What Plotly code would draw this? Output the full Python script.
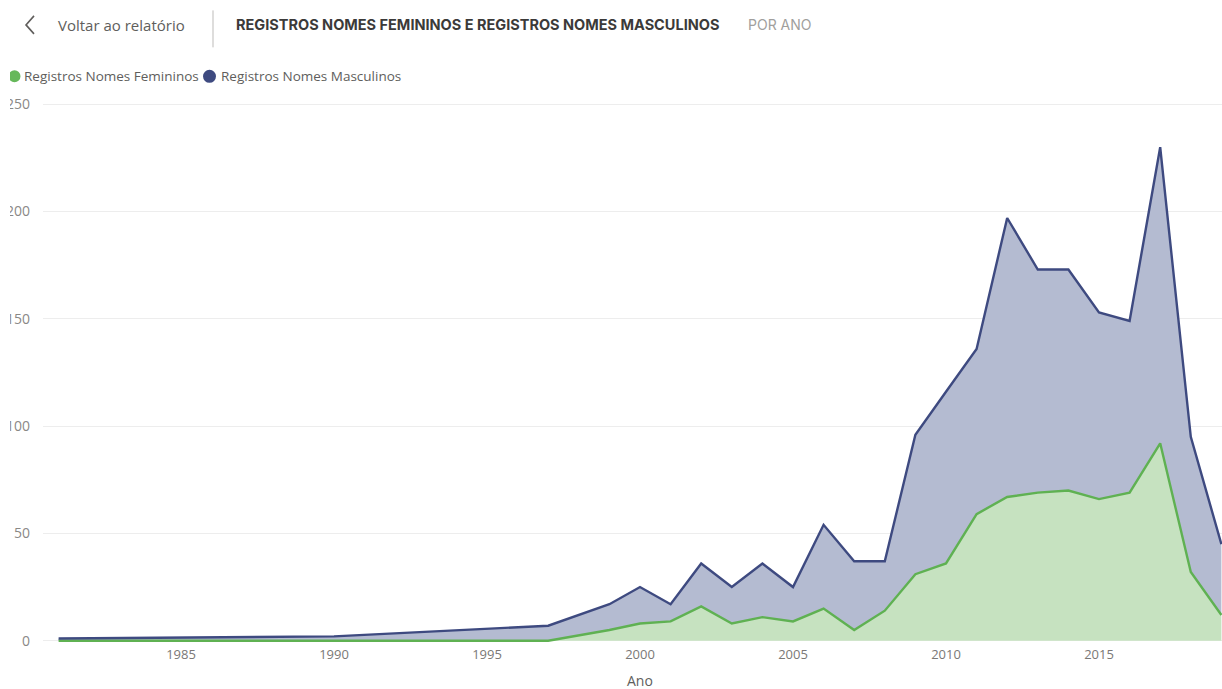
import plotly.graph_objects as go

# Registros por ano (anos com mudança de tendência visível)
anos = [1981, 1990, 1997, 1999, 2000, 2001, 2002, 2003, 2004, 2005, 2006, 2007,
        2008, 2009, 2010, 2011, 2012, 2013, 2014, 2015, 2016, 2017, 2018, 2019]
femininos = [0, 0, 0, 5, 8, 9, 16, 8, 11, 9, 15, 5,
             14, 31, 36, 59, 67, 69, 70, 66, 69, 92, 32, 12]
masculinos = [1, 2, 7, 12, 17, 8, 20, 17, 25, 16, 39, 32,
              23, 65, 80, 77, 130, 104, 103, 87, 80, 138, 63, 33]

x_ticks = [1985, 1990, 1995, 2000, 2005, 2010, 2015]
y_ticks = [0, 50, 100, 150, 200, 250]

verde_linha, verde_area = "#5FB152", "#C6E2C0"
azul_linha, azul_area = "#3E4A80", "#B4BBD1"
cinza_txt = "#605E5C"

W, H = 1222, 689
L, R, T, B = 43, 0, 99.7, 43.7
PW, PH = W - L - R, H - T - B


def px(xp):
    return (xp - L) / PW


def py(yp):
    return (H - B - yp) / PH


fig = go.Figure()
fig.add_trace(go.Scatter(
    x=anos, y=femininos, name="Registros Nomes Femininos",
    stackgroup="reg", mode="lines",
    line=dict(color=verde_linha, width=2.4), fillcolor=verde_area,
))
fig.add_trace(go.Scatter(
    x=anos, y=masculinos, name="Registros Nomes Masculinos",
    stackgroup="reg", mode="lines",
    line=dict(color=azul_linha, width=2.4), fillcolor=azul_area,
))

shapes = [
    # chevron de voltar
    dict(type="path", xref="paper", yref="paper",
         path=f"M {px(34)},{py(15.5)} L {px(26)},{py(24.5)} L {px(34)},{py(33.5)}",
         line=dict(color=cinza_txt, width=1.6)),
    # separador vertical
    dict(type="line", xref="paper", yref="paper",
         x0=px(213), x1=px(213), y0=py(10), y1=py(47),
         line=dict(color="#BDBBB9", width=1)),
    # marcadores da legenda
    dict(type="circle", xref="paper", yref="paper",
         x0=px(8.5), x1=px(20.5), y0=py(70), y1=py(82),
         fillcolor="#66B85A", line=dict(width=0)),
    dict(type="circle", xref="paper", yref="paper",
         x0=px(203), x1=px(216), y0=py(69.5), y1=py(82.5),
         fillcolor="#3E4A80", line=dict(width=0)),
    # recorte da borda esquerda
    dict(type="rect", xref="paper", yref="paper", layer="above",
         x0=px(-5), x1=px(10), y0=py(62), y1=py(660),
         fillcolor="white", line=dict(width=0)),
]

annotations = [
    dict(text="Voltar ao relatório", x=px(56), y=py(25), xanchor="left", yanchor="middle",
         font=dict(family="Open Sans", size=15, color=cinza_txt)),
    dict(text="<b>REGISTROS NOMES FEMININOS E REGISTROS NOMES MASCULINOS</b>",
         x=px(234), y=py(24), xanchor="left", yanchor="middle",
         font=dict(family="Inter", size=14.5, color="#3B3A39")),
    dict(text="POR ANO", x=px(746), y=py(24), xanchor="left", yanchor="middle",
         font=dict(family="Inter", size=14, color="#A19F9D")),
    dict(text="Registros Nomes Femininos", x=px(22), y=py(76), xanchor="left", yanchor="middle",
         font=dict(family="Open Sans", size=13.5, color=cinza_txt)),
    dict(text="Registros Nomes Masculinos", x=px(219), y=py(76), xanchor="left", yanchor="middle",
         font=dict(family="Open Sans", size=13.5, color=cinza_txt)),
    dict(text="Ano", x=px(640), y=py(681), xanchor="center", yanchor="middle",
         font=dict(family="Open Sans", size=14, color=cinza_txt)),
]
for a in annotations:
    a.update(xref="paper", yref="paper", showarrow=False)

fig.update_layout(
    width=W, height=H,
    margin=dict(l=L, r=R, t=T, b=B, pad=0),
    paper_bgcolor="white", plot_bgcolor="white",
    showlegend=False,
    shapes=shapes, annotations=annotations,
    font=dict(family="Open Sans", color="#7A7876"),
    xaxis=dict(range=[1980.49, 2019.02], tickvals=x_ticks, showgrid=False,
               zeroline=False, showline=False, ticks="",
               tickfont=dict(size=13, color="#7A7876")),
    yaxis=dict(range=[-2, 252], tickvals=y_ticks, showgrid=True,
               gridcolor="#EDEDED", gridwidth=1, zeroline=False, showline=False,
               ticks="", ticklabelstandoff=12,
               tickfont=dict(size=14, color="#8A8886")),
)

fig.write_html("out.html")
